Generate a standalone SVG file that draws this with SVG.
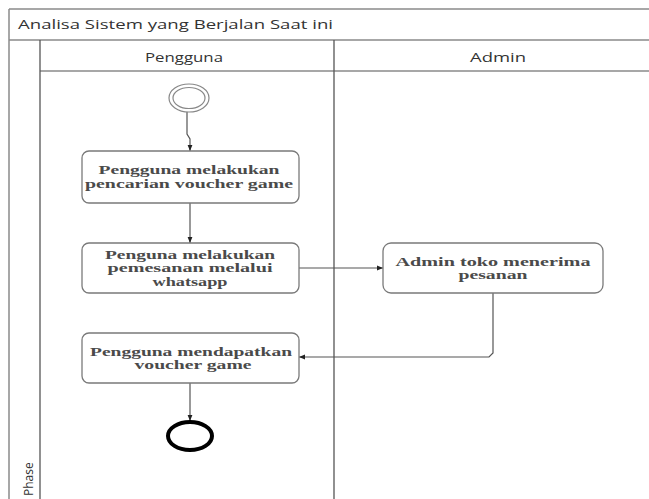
<svg xmlns="http://www.w3.org/2000/svg" width="649" height="499" viewBox="0 0 649 499">
<style>
.frame{fill:none;stroke:#8a8a8a;stroke-width:1.5}
.sep{fill:none;stroke:#555;stroke-width:1.3}
.hdr{font-family:"Open Sans","Liberation Sans",sans-serif;font-size:12px;fill:#333}
.box{fill:#fff;stroke:#7a7a7a;stroke-width:1.3}
.bt{font-family:"Liberation Serif","DejaVu Serif",serif;font-size:12.5px;font-weight:bold;fill:#4a4a4a;text-anchor:middle}
.conn{fill:none;stroke:#555;stroke-width:1.2}
</style>
<defs>
<marker id="ah" viewBox="0 0 10 10" refX="10" refY="5" markerWidth="5" markerHeight="5" orient="auto">
<path d="M0,1 L10,5 L0,9 z" fill="#222"/>
</marker>
</defs>
<rect width="649" height="499" fill="#fff"/>
<g id="frame">
<line class="frame" x1="9" y1="9" x2="649" y2="9"/>
<line class="frame" x1="9" y1="9" x2="9" y2="499"/>
<line class="frame" x1="9" y1="40" x2="649" y2="40"/>
<line class="frame" x1="40" y1="71" x2="649" y2="71"/>
<line class="sep" x1="40" y1="40" x2="40" y2="499"/>
<line class="sep" x1="334" y1="40" x2="334" y2="499"/>
<text class="hdr" x="18" y="29" textLength="315" lengthAdjust="spacingAndGlyphs">Analisa Sistem yang Berjalan Saat ini</text>
<text class="hdr" x="184" y="62" text-anchor="middle" textLength="78" lengthAdjust="spacingAndGlyphs">Pengguna</text>
<text class="hdr" x="498" y="62" text-anchor="middle" textLength="56" lengthAdjust="spacingAndGlyphs">Admin</text>
<text class="hdr" font-size="11" transform="translate(33,496) rotate(-90)">Phase</text>
</g>
<g id="connectors">
<polyline class="conn" points="187,112 187,134 190,139 190,151" marker-end="url(#ah)"/>
<line class="conn" x1="190" y1="203" x2="190" y2="243" marker-end="url(#ah)"/>
<line class="conn" x1="299" y1="268" x2="383" y2="268" marker-end="url(#ah)"/>
<polyline class="conn" points="493,293 493,353 489,357 299,357" marker-end="url(#ah)"/>
<line class="conn" x1="190" y1="383" x2="190" y2="421" marker-end="url(#ah)"/>
</g>
<g id="start">
<ellipse cx="189" cy="98" rx="20" ry="14" fill="#fff" stroke="#888" stroke-width="1.2"/>
<ellipse cx="189" cy="98" rx="16" ry="10.5" fill="none" stroke="#888" stroke-width="1.2"/>
</g>
<g id="n1">
<rect class="box" x="82" y="151" width="217" height="52" rx="7"/>
<text class="bt" x="189" y="174" textLength="181" lengthAdjust="spacingAndGlyphs">Pengguna melakukan</text>
<text class="bt" x="189" y="188" textLength="208" lengthAdjust="spacingAndGlyphs">pencarian voucher game</text>
</g>
<g id="n2">
<rect class="box" x="82" y="243" width="217" height="50" rx="7"/>
<text class="bt" x="190" y="259" textLength="170" lengthAdjust="spacingAndGlyphs">Penguna melakukan</text>
<text class="bt" x="190" y="272" textLength="165" lengthAdjust="spacingAndGlyphs">pemesanan melalui</text>
<text class="bt" x="190" y="286" textLength="75" lengthAdjust="spacingAndGlyphs">whatsapp</text>
</g>
<g id="n3">
<rect class="box" x="383" y="243" width="220" height="50" rx="8"/>
<text class="bt" x="493" y="266" textLength="195" lengthAdjust="spacingAndGlyphs">Admin toko menerima</text>
<text class="bt" x="493" y="279" textLength="69" lengthAdjust="spacingAndGlyphs">pesanan</text>
</g>
<g id="n4">
<rect class="box" x="82" y="333" width="217" height="50" rx="7"/>
<text class="bt" x="191" y="356" textLength="202" lengthAdjust="spacingAndGlyphs">Pengguna mendapatkan</text>
<text class="bt" x="193" y="369" textLength="117" lengthAdjust="spacingAndGlyphs">voucher game</text>
</g>
<g id="end">
<ellipse cx="190" cy="436" rx="22" ry="14" fill="#fff" stroke="#000" stroke-width="4"/>
</g>
</svg>
